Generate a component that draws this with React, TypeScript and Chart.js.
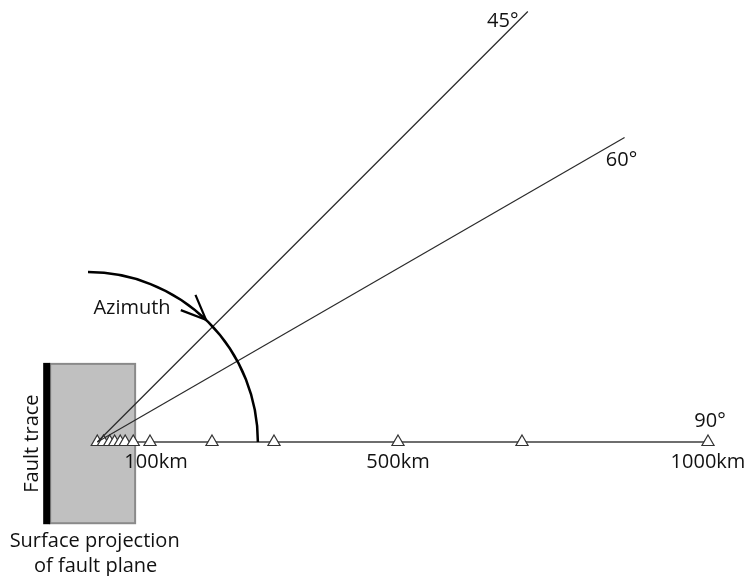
import React, { useEffect, useRef } from "react";
import { Chart, registerables } from "chart.js";
Chart.register(...registerables);

// Distances of the stations along the 90° profile (km)
const stationKm = [15, 25, 35, 43, 52, 60, 73, 100, 200, 300, 500, 700, 1000];
// Distance labels under the profile
const distanceLabelKm = [100, 500, 1000];
const distanceLabels = ["100km", "500km", "1000km"];
// Azimuth rays (degrees from the fault trace)
const rayAzimuths = [45, 60];
const rayLabels = ["45°", "60°"];
const rayLengthKm = 982;
const profileLabel = "90°";
// Azimuth arc
const arcRadiusKm = 274;
const arrowAzimuth = 44;
// Fault plane surface projection (km)
const planeX = [-61, 76];
const planeY = [-131, 126];

const PX_PER_KM = 0.62;
const W = 749;
const H = 576;
const ORIGIN_PX_X = 88;
const ORIGIN_PX_Y = 442;

const FONT = '20px "Open Sans", "DejaVu Sans", sans-serif';
const TEXT = "#111111";

const origin = { x: stationKm[0], y: 0 };
const rayEnd = (az: number) => ({
  x: origin.x + rayLengthKm * Math.sin((az * Math.PI) / 180),
  y: origin.y + rayLengthKm * Math.cos((az * Math.PI) / 180),
});

const diagramPlugin = {
  id: "diagram",
  beforeDatasetsDraw(chart: any) {
    const { ctx, scales } = chart;
    const xs = scales.x;
    const ys = scales.y;
    const x0 = xs.getPixelForValue(planeX[0]);
    const x1 = xs.getPixelForValue(planeX[1]);
    const y0 = ys.getPixelForValue(planeY[1]);
    const y1 = ys.getPixelForValue(planeY[0]);
    ctx.save();
    ctx.fillStyle = "#c0c0c0";
    ctx.fillRect(x0, y0, x1 - x0, y1 - y0);
    ctx.strokeStyle = "#8a8a8a";
    ctx.lineWidth = 2;
    ctx.strokeRect(x0, y0, x1 - x0, y1 - y0);
    // fault trace
    ctx.fillStyle = "#000";
    ctx.fillRect(x0 - 7, y0 - 1, 7, y1 - y0 + 2);
    ctx.restore();
  },
  afterDatasetsDraw(chart: any) {
    const { ctx, scales } = chart;
    const xs = scales.x;
    const ys = scales.y;
    const cx = xs.getPixelForValue(0);
    const cy = ys.getPixelForValue(0);
    const r = xs.getPixelForValue(arcRadiusKm) - cx;
    ctx.save();
    // arc from azimuth 0 (up) to 90 (right)
    ctx.strokeStyle = "#000";
    ctx.lineWidth = 2.5;
    ctx.beginPath();
    ctx.arc(cx, cy, r, -Math.PI / 2, 0);
    ctx.stroke();
    // arrowhead (pointing clockwise along the arc)
    const a = (arrowAzimuth * Math.PI) / 180;
    const tx = cx + r * Math.sin(a);
    const ty = cy - r * Math.cos(a);
    const bAng = Math.atan2(-Math.sin(a), -Math.cos(a));
    const spread = (23 * Math.PI) / 180;
    const len = 27;
    ctx.lineWidth = 2.2;
    ctx.beginPath();
    ctx.moveTo(tx + len * Math.cos(bAng + spread), ty + len * Math.sin(bAng + spread));
    ctx.lineTo(tx, ty);
    ctx.lineTo(tx + len * Math.cos(bAng - spread), ty + len * Math.sin(bAng - spread));
    ctx.stroke();

    // texts
    ctx.fillStyle = TEXT;
    ctx.font = FONT;
    ctx.textBaseline = "alphabetic";
    ctx.textAlign = "center";
    const distNudge = [6, 0, 0];
    distanceLabelKm.forEach((km, i) => {
      ctx.fillText(distanceLabels[i], xs.getPixelForValue(km) + distNudge[i], cy + 26);
    });
    const rayNudge = [
      [-25, 16],
      [-3, 28],
    ];
    rayAzimuths.forEach((az, i) => {
      const e = rayEnd(az);
      ctx.fillText(rayLabels[i], xs.getPixelForValue(e.x) + rayNudge[i][0], ys.getPixelForValue(e.y) + rayNudge[i][1]);
    });
    const last = stationKm[stationKm.length - 1];
    ctx.fillText(profileLabel, xs.getPixelForValue(last) + 2, cy - 15);

    ctx.fillText("Azimuth", tx - 74, ty - 6);

    const px0 = xs.getPixelForValue(planeX[0]);
    const px1 = xs.getPixelForValue(planeX[1]);
    const py0 = ys.getPixelForValue(planeY[1]);
    const py1 = ys.getPixelForValue(planeY[0]);
    ctx.fillText("Surface projection", (px0 + px1) / 2 + 2, py1 + 24);
    ctx.fillText("of fault plane", (px0 + px1) / 2 + 3, py1 + 49);

    ctx.save();
    ctx.translate(px0 - 12.5, (py0 + py1) / 2);
    ctx.rotate(-Math.PI / 2);
    ctx.fillText("Fault trace", 0, 0);
    ctx.restore();
    ctx.restore();
  },
};

export default function App() {
  const ref = useRef<HTMLCanvasElement | null>(null);
  useEffect(() => {
    document.body.style.margin = "0";
    if (!ref.current) return;
    const rays = rayAzimuths.map((az) => ({
      type: "line" as const,
      data: [origin, rayEnd(az)],
      borderColor: "#2a2a2a",
      borderWidth: 1.2,
      pointRadius: 0,
      order: 1,
    }));
    const chart = new Chart(ref.current, {
      type: "scatter",
      data: {
        datasets: [
          {
            type: "scatter",
            data: stationKm.map((km) => ({ x: km, y: 0 })),
            pointStyle: "triangle",
            pointRadius: 7,
            pointBackgroundColor: "#ffffff",
            pointBorderColor: "#333333",
            pointBorderWidth: 1.2,
            order: 2,
          } as any,
          {
            type: "line",
            data: [
              { x: stationKm[0], y: 0 },
              { x: stationKm[stationKm.length - 1], y: 0 },
            ],
            borderColor: "#6e6e6e",
            borderWidth: 2,
            pointRadius: 0,
            order: 3,
          } as any,
          ...rays,
        ],
      },
      options: {
        animation: false,
        responsive: false,
        maintainAspectRatio: false,
        layout: { padding: 0, autoPadding: false },
        plugins: { legend: { display: false }, tooltip: { enabled: false } },
        events: [],
        scales: {
          x: {
            type: "linear",
            display: false,
            min: -ORIGIN_PX_X / PX_PER_KM,
            max: (W - ORIGIN_PX_X) / PX_PER_KM,
          },
          y: {
            type: "linear",
            display: false,
            min: -(H - ORIGIN_PX_Y) / PX_PER_KM,
            max: ORIGIN_PX_Y / PX_PER_KM,
          },
        },
      },
      plugins: [diagramPlugin],
    });
    return () => chart.destroy();
  }, []);
  return (
    <div style={{ width: W, height: H }}>
      <canvas ref={ref} width={W} height={H} style={{ width: W, height: H, display: "block" }} />
    </div>
  );
}
